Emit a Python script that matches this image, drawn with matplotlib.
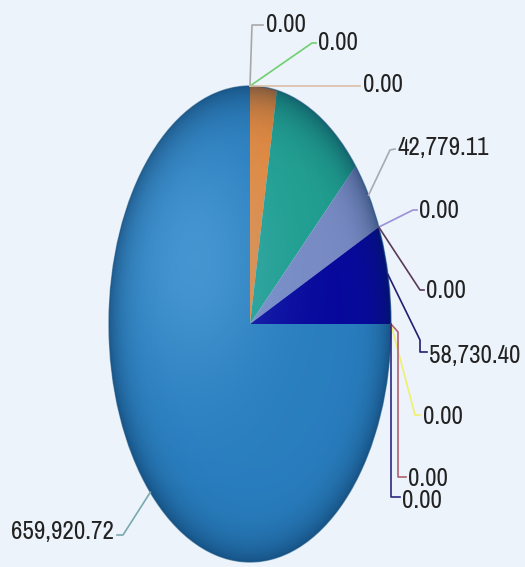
import numpy as np
import matplotlib
matplotlib.use("Agg")
import matplotlib.pyplot as plt
from matplotlib import font_manager as fm
from matplotlib.patches import Circle

# slices, clockwise from 12 o'clock
values = [0.00, 0.00, 0.00, 26900.00, 91564.00, 42779.11, 0.00, 0.00,
          58730.40, 0.00, 0.00, 0.00, 659920.72]
show_label = [True, True, True, False, False, True, True, True,
              True, True, True, True, True]
slice_colors = ['#b0b0b0', '#5fcf6a', '#e6c6a6', '#f08c3a', '#22a493',
                '#7d8fc9', '#9a8fd8', '#5a3a5a', '#0808a0', '#f2f060',
                '#d08a9a', '#303090', '#2b82c4']
line_colors = ['#a8a8a8', '#6fd070', '#dcc0a8', None, None, '#a8a8b8',
               '#9a90d8', '#5a3a5a', '#202070', '#f0f070', '#b06070',
               '#2a2a80', '#7aa8b0']


def narrow_font():
    """Pick a condensed sans face if one is installed."""
    hits = []
    for f in fm.fontManager.ttflist:
        cond = ('Narrow' in f.name or 'Condensed' in f.name
                or 'condensed' in str(f.stretch))
        if not cond or 'Mono' in f.name or 'Serif' in f.name:
            continue
        if f.style != 'normal' or str(f.weight) not in ('400', 'normal', 'regular'):
            continue
        hits.append(f)
    hits.sort(key=lambda f: ('extra' in str(f.stretch), f.name))
    if hits:
        return fm.FontProperties(fname=hits[0].fname, size=18), 18
    return fm.FontProperties(family='DejaVu Sans', size=14), 14


label_font, fsize = narrow_font()

# ellipse layout in pixels
CX, CY, RX, RY = 250, 324, 141, 238
W, H = 525, 567


def px(x, y):
    return (x - CX) / RX, (CY - y) / RY


# leader elbows and text anchor, pixel coords
leaders = {
    0: ([(252, 25), (263, 25)], (266, 24), 'left'),
    1: ([(312, 43), (316, 43)], (318, 42), 'left'),
    2: ([(360, 86)], (363, 84), 'left'),
    5: ([(390, 150), (395, 149)], (397, 147), 'left'),
    6: ([(413, 210), (417, 210)], (419, 211), 'left'),
    7: ([(420, 290), (424, 290)], (426, 291), 'left'),
    8: ([(420, 340), (420, 352), (427, 352)], (429, 355), 'left'),
    9: ([(415, 415), (420, 415)], (423, 416), 'left'),
    10: ([(398, 332), (398, 477), (406, 477)], (408, 478), 'left'),
    11: ([(391, 497), (400, 497)], (402, 500), 'left'),
    12: ([(123, 535), (117, 535)], (114, 532), 'right'),
}

fig = plt.figure(figsize=(W / 100, H / 100), dpi=100)
fig.patch.set_facecolor('#ecf3fa')
ax = fig.add_axes([0, 0, 1, 1])
ax.set_facecolor('#ecf3fa')

wedges, _ = ax.pie(values, colors=slice_colors, startangle=90,
                   counterclock=False, radius=1, center=(0, 0),
                   wedgeprops=dict(linewidth=0))

# shading: soft highlight on the left, darker rim
clip = Circle((0, 0), 1, transform=ax.transData, facecolor='none')
n = 500
u = np.linspace(-1, 1, n)
U, V = np.meshgrid(u, u)
R = np.clip(np.hypot(U, V), 0, 1)
hl = np.zeros((n, n, 4))
hl[..., 0], hl[..., 1], hl[..., 2] = 0.55, 0.82, 1.0
hl[..., 3] = 0.28 * np.exp(-((U + 0.40) ** 2 + (V - 0.27) ** 2) / (2 * 0.38 ** 2))
dk = np.zeros((n, n, 4))
dk[..., 0], dk[..., 1], dk[..., 2] = 0.0, 0.12, 0.25
dk[..., 3] = 0.04 + 0.42 * R ** 10
for img in (dk, hl):
    im = ax.imshow(img, extent=(-1, 1, -1, 1), origin='lower',
                   aspect='auto', interpolation='bilinear', zorder=3)
    im.set_clip_path(clip)
ax.add_patch(Circle((0, 0), 1, facecolor='none', edgecolor='#16517e',
                    linewidth=1.0, alpha=0.6, zorder=4))

# value labels with leader lines
for i, w in enumerate(wedges):
    if not show_label[i]:
        continue
    mid = np.deg2rad((w.theta1 + w.theta2) / 2)
    pts = [(np.cos(mid), np.sin(mid))] + [px(x, y) for x, y in leaders[i][0]]
    xs, ys = zip(*pts)
    ax.plot(xs, ys, color=line_colors[i], linewidth=1.2, zorder=5)
    tx, ty = px(*leaders[i][1])
    ax.text(tx, ty, '{:,.2f}'.format(values[i]), fontproperties=label_font,
            color='#222222', ha=leaders[i][2], va='center', zorder=6)

x0, _ = px(0, 0)
x1, _ = px(W, 0)
_, y0 = px(0, H)
_, y1 = px(0, 0)
ax.set_xlim(x0, x1)
ax.set_ylim(y0, y1)
ax.set_aspect('auto')
ax.axis('off')

fig.savefig('out.png', dpi=100, facecolor=fig.get_facecolor())
